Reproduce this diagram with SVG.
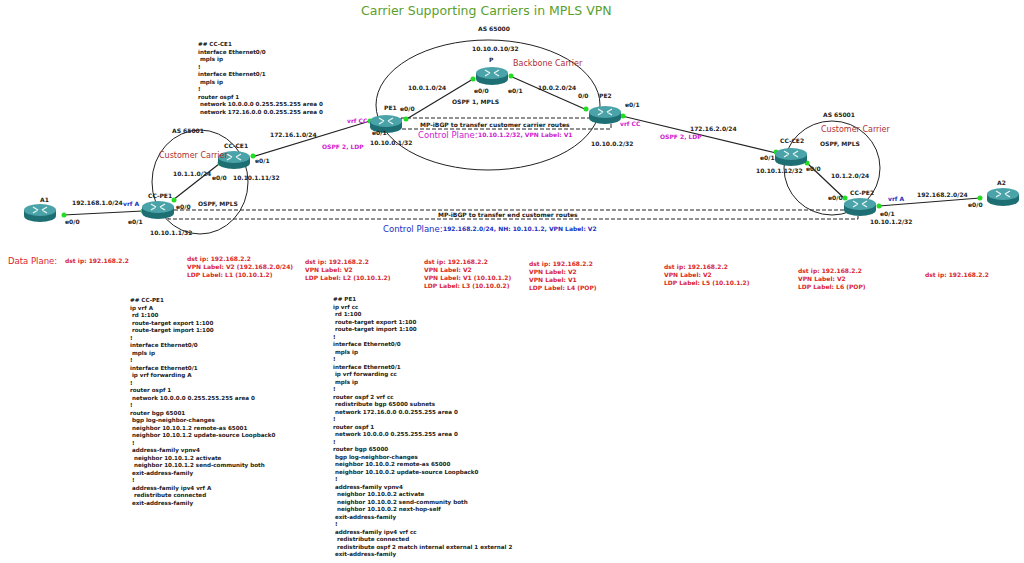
<svg xmlns="http://www.w3.org/2000/svg" width="1024" height="563" viewBox="0 0 1024 563">
<style>
text{font-family:"DejaVu Sans",Verdana,sans-serif;font-weight:bold;font-size:6px;fill:#222}
.t{font-size:12.5px;font-weight:normal;fill:#5aa02c}
.red{fill:#d9262e}
.big{font-size:8.5px;font-weight:normal}
.mag{fill:#d020d0}
.blu{fill:#2030c0}
.car{fill:#b03030;font-size:8px;font-weight:normal}
.cfg{font-size:5.6px}
.ln{stroke:#222;stroke-width:1.2;fill:none}
.ring{stroke:#222;stroke-width:1;fill:none}
.dash{stroke:#222;stroke-width:1;fill:none;stroke-dasharray:4 2}
.dot{fill:#22dd22}
</style>
<defs>
<g id="r">
<path d="M-16,-3 v6 a16,6 0 0 0 32,0 v-6 z" fill="#1e6f74"/>
<ellipse cx="0" cy="-3" rx="16" ry="6" fill="#4aa3a8"/>
<path d="M-7,-6 l5,3 M-7,0 l5,-3 M7,-6 l-5,3 M7,0 l-5,-3" stroke="#e8f4f4" stroke-width="1.3"/>
</g>
</defs>
<text class="t" x="361" y="15">Carrier Supporting Carriers in MPLS VPN</text>
<g id="rings">
<ellipse class="ring" cx="488" cy="105" rx="112" ry="65"/>
<ellipse class="ring" cx="200" cy="182" rx="48" ry="52"/>
<ellipse class="ring" cx="832" cy="168" rx="48" ry="47"/>
</g>
<g id="connectors">
<path class="ln" d="M63,215 L143,211"/>
<path class="ln" d="M173,200 L219,164"/>
<path class="ln" d="M252,157 L370,121"/>
<path class="ln" d="M405,120 L473,79"/>
<path class="ln" d="M510,76 L587,110"/>
<path class="ln" d="M622,116 L776,153"/>
<path class="ln" d="M807,163 L845,199"/>
<path class="ln" d="M879,206 L980,198"/>
<rect class="dash" x="401" y="118" width="210" height="11"/>
<rect class="dash" x="168" y="210" width="690" height="9"/>
<circle class="dot" cx="64" cy="215" r="2.5"/><circle class="dot" cx="143" cy="211" r="2.5"/>
<circle class="dot" cx="174" cy="200" r="2.5"/><circle class="dot" cx="220" cy="163" r="2.5"/>
<circle class="dot" cx="253" cy="156" r="2.5"/><circle class="dot" cx="370" cy="121" r="2.5"/>
<circle class="dot" cx="406" cy="119" r="2.5"/><circle class="dot" cx="473" cy="79" r="2.5"/>
<circle class="dot" cx="511" cy="76" r="2.5"/><circle class="dot" cx="586" cy="109" r="2.5"/>
<circle class="dot" cx="623" cy="116" r="2.5"/><circle class="dot" cx="776" cy="152" r="2.5"/>
<circle class="dot" cx="807" cy="163" r="2.5"/><circle class="dot" cx="845" cy="198" r="2.5"/>
<circle class="dot" cx="879" cy="206" r="2.5"/><circle class="dot" cx="980" cy="198" r="2.5"/>
</g>
<g id="A1"><use href="#r" x="40" y="213"/><text x="40" y="202">A1</text><text x="65" y="224">e0/0</text></g>
<g id="CC-PE1"><use href="#r" x="158" y="210"/><text x="148" y="198">CC-PE1</text><text x="128" y="224">e0/1</text><text x="176" y="209">e0/0</text><text x="150" y="235">10.10.1.1/32</text><text class="blu" x="123" y="206">vrf A</text></g>
<g id="CC-CE1"><use href="#r" x="234" y="160"/><text x="224" y="148">CC-CE1</text><text x="255" y="163">e0/1</text><text x="212" y="180">e0/0</text><text x="233" y="180">10.10.1.11/32</text></g>
<g id="PE1"><use href="#r" x="386" y="124"/><text x="384" y="110">PE1</text><text x="372" y="135">e0/1</text><text x="400" y="111">e0/0</text><text x="370" y="145">10.10.0.1/32</text><text class="mag" x="347" y="123">vrf CC</text></g>
<g id="P"><use href="#r" x="492" y="76"/><text x="489" y="62">P</text><text x="474" y="93">e0/0</text><text x="508" y="93">e0/1</text><text x="472" y="51">10.10.0.10/32</text></g>
<g id="PE2"><use href="#r" x="605" y="115"/><text x="599" y="98">PE2</text><text x="578" y="98">0/0</text><text x="625" y="107">e0/1</text><text class="mag" x="620" y="126">vrf CC</text><text x="591" y="146">10.10.0.2/32</text></g>
<g id="CC-CE2"><use href="#r" x="791" y="157"/><text x="780" y="143">CC-CE2</text><text x="760" y="160">e0/1</text><text x="806" y="171">e0/0</text><text x="756" y="173">10.10.1.12/32</text></g>
<g id="CC-PE2"><use href="#r" x="860" y="207"/><text x="850" y="195">CC-PE2</text><text x="828" y="200">e0/0</text><text x="880" y="216">e0/1</text><text x="870" y="224">10.10.1.2/32</text><text class="blu" x="888" y="201">vrf A</text></g>
<g id="A2"><use href="#r" x="1003" y="197"/><text x="997" y="185">A2</text><text x="968" y="207">e0/0</text></g>
<g id="labels">
<text x="478" y="31">AS 65000</text>
<text class="car" x="513" y="66">Backbone Carrier</text>
<text x="408" y="90">10.0.1.0/24</text>
<text x="452" y="104">OSPF 1, MPLS</text>
<text x="538" y="90">10.0.2.0/24</text>
<text x="172" y="133">AS 65001</text>
<text class="car" x="159" y="158">Customer Carrier</text>
<text x="173" y="176">10.1.1.0/24</text>
<text x="198" y="206">OSPF, MPLS</text>
<text x="72" y="205">192.168.1.0/24</text>
<text x="270" y="137">172.16.1.0/24</text>
<text class="mag" x="322" y="149">OSPF 2, LDP</text>
<text x="690" y="131">172.16.2.0/24</text>
<text class="mag" x="660" y="139">OSPF 2, LDP</text>
<text x="823" y="117">AS 65001</text>
<text class="car" x="821" y="132">Customer Carrier</text>
<text x="820" y="146">OSPF, MPLS</text>
<text x="831" y="178">10.1.2.0/24</text>
<text x="917" y="197">192.168.2.0/24</text>
<text x="420" y="127">MP-iBGP to transfer customer carrier routes</text>
<text class="mag big" x="418" y="138">Control Plane:</text><text class="mag" x="478" y="137">10.10.1.2/32, VPN Label: V1</text>
<text x="438" y="217">MP-iBGP to transfer end customer routes</text>
<text class="blu big" x="383" y="232">Control Plane:</text><text class="blu" x="443" y="231">192.168.2.0/24, NH: 10.10.1.2, VPN Label: V2</text>
</g>
<g id="dataplane">
<text class="red big" x="8" y="264">Data Plane:</text>
<text class="red" x="65" y="263">dst ip: 192.168.2.2</text>
<text class="red" x="187" y="261">dst ip: 192.168.2.2</text><text class="red" x="187" y="269">VPN Label: V2 (192.168.2.0/24)</text><text class="red" x="187" y="277">LDP Label: L1 (10.10.1.2)</text>
<text class="red" x="305" y="264">dst ip: 192.168.2.2</text><text class="red" x="305" y="272">VPN Label: V2</text><text class="red" x="305" y="280">LDP Label: L2 (10.10.1.2)</text>
<text class="red" x="424" y="264">dst ip: 192.168.2.2</text><text class="red" x="424" y="272">VPN Label: V2</text><text class="red" x="424" y="280">VPN Label: V1 (10.10.1.2)</text><text class="red" x="424" y="288">LDP Label: L3  (10.10.0.2)</text>
<text class="red" x="529" y="266">dst ip: 192.168.2.2</text><text class="red" x="529" y="274">VPN Label: V2</text><text class="red" x="529" y="282">VPN Label: V1</text><text class="red" x="529" y="290">LDP Label: L4 (POP)</text>
<text class="red" x="664" y="269">dst ip: 192.168.2.2</text><text class="red" x="664" y="277">VPN Label: V2</text><text class="red" x="664" y="285">LDP Label: L5 (10.10.1.2)</text>
<text class="red" x="798" y="273">dst ip: 192.168.2.2</text><text class="red" x="798" y="281">VPN Label: V2</text><text class="red" x="798" y="289">LDP Label: L6 (POP)</text>
<text class="red" x="925" y="277">dst ip: 192.168.2.2</text>
</g>
<g id="cfg-ce1">
<text class="cfg" x="198" y="46">## CC-CE1</text><text class="cfg" x="198" y="54">interface Ethernet0/0</text><text class="cfg" x="198" y="61" xml:space="preserve"> mpls ip</text><text class="cfg" x="198" y="69">!</text><text class="cfg" x="198" y="76">interface Ethernet0/1</text><text class="cfg" x="198" y="84" xml:space="preserve"> mpls ip</text><text class="cfg" x="198" y="91">!</text><text class="cfg" x="198" y="99">router ospf 1</text><text class="cfg" x="198" y="106" xml:space="preserve"> network 10.0.0.0 0.255.255.255 area 0</text><text class="cfg" x="198" y="114" xml:space="preserve"> network 172.16.0.0 0.0.255.255 area 0</text>
</g>
<g id="cfg-pe1">
<text class="cfg" x="130" y="302" xml:space="preserve">## CC-PE1</text>
<text class="cfg" x="130" y="309.5" xml:space="preserve">ip vrf A</text>
<text class="cfg" x="130" y="317" xml:space="preserve"> rd 1:100</text>
<text class="cfg" x="130" y="324.5" xml:space="preserve"> route-target export 1:100</text>
<text class="cfg" x="130" y="332" xml:space="preserve"> route-target import 1:100</text>
<text class="cfg" x="130" y="339.5" xml:space="preserve">!</text>
<text class="cfg" x="130" y="347" xml:space="preserve">interface Ethernet0/0</text>
<text class="cfg" x="130" y="354.5" xml:space="preserve"> mpls ip</text>
<text class="cfg" x="130" y="362" xml:space="preserve">!</text>
<text class="cfg" x="130" y="369.5" xml:space="preserve">interface Ethernet0/1</text>
<text class="cfg" x="130" y="377" xml:space="preserve"> ip vrf forwarding A</text>
<text class="cfg" x="130" y="384.5" xml:space="preserve">!</text>
<text class="cfg" x="130" y="392" xml:space="preserve">router ospf 1</text>
<text class="cfg" x="130" y="399.5" xml:space="preserve"> network 10.0.0.0 0.255.255.255 area 0</text>
<text class="cfg" x="130" y="407" xml:space="preserve">!</text>
<text class="cfg" x="130" y="414.5" xml:space="preserve">router bgp 65001</text>
<text class="cfg" x="130" y="422" xml:space="preserve"> bgp log-neighbor-changes</text>
<text class="cfg" x="130" y="429.5" xml:space="preserve"> neighbor 10.10.1.2 remote-as 65001</text>
<text class="cfg" x="130" y="437" xml:space="preserve"> neighbor 10.10.1.2 update-source Loopback0</text>
<text class="cfg" x="130" y="444.5" xml:space="preserve"> !</text>
<text class="cfg" x="130" y="452" xml:space="preserve"> address-family vpnv4</text>
<text class="cfg" x="130" y="459.5" xml:space="preserve">  neighbor 10.10.1.2 activate</text>
<text class="cfg" x="130" y="467" xml:space="preserve">  neighbor 10.10.1.2 send-community both</text>
<text class="cfg" x="130" y="474.5" xml:space="preserve"> exit-address-family</text>
<text class="cfg" x="130" y="482" xml:space="preserve"> !</text>
<text class="cfg" x="130" y="489.5" xml:space="preserve"> address-family ipv4 vrf A</text>
<text class="cfg" x="130" y="497" xml:space="preserve">  redistribute connected</text>
<text class="cfg" x="130" y="504.5" xml:space="preserve"> exit-address-family</text>
</g>
<g id="cfg-pe1b">
<text class="cfg" x="333" y="301" xml:space="preserve">## PE1</text>
<text class="cfg" x="333" y="308.5" xml:space="preserve">ip vrf cc</text>
<text class="cfg" x="333" y="316" xml:space="preserve"> rd 1:100</text>
<text class="cfg" x="333" y="323.5" xml:space="preserve"> route-target export 1:100</text>
<text class="cfg" x="333" y="331" xml:space="preserve"> route-target import 1:100</text>
<text class="cfg" x="333" y="338.5" xml:space="preserve">!</text>
<text class="cfg" x="333" y="346" xml:space="preserve">interface Ethernet0/0</text>
<text class="cfg" x="333" y="353.5" xml:space="preserve"> mpls ip</text>
<text class="cfg" x="333" y="361" xml:space="preserve">!</text>
<text class="cfg" x="333" y="368.5" xml:space="preserve">interface Ethernet0/1</text>
<text class="cfg" x="333" y="376" xml:space="preserve"> ip vrf forwarding cc</text>
<text class="cfg" x="333" y="383.5" xml:space="preserve"> mpls ip</text>
<text class="cfg" x="333" y="391" xml:space="preserve">!</text>
<text class="cfg" x="333" y="398.5" xml:space="preserve">router ospf 2 vrf cc</text>
<text class="cfg" x="333" y="406" xml:space="preserve"> redistribute bgp 65000 subnets</text>
<text class="cfg" x="333" y="413.5" xml:space="preserve"> network 172.16.0.0 0.0.255.255 area 0</text>
<text class="cfg" x="333" y="421" xml:space="preserve">!</text>
<text class="cfg" x="333" y="428.5" xml:space="preserve">router ospf 1</text>
<text class="cfg" x="333" y="436" xml:space="preserve"> network 10.0.0.0 0.255.255.255 area 0</text>
<text class="cfg" x="333" y="443.5" xml:space="preserve">!</text>
<text class="cfg" x="333" y="451" xml:space="preserve">router bgp 65000</text>
<text class="cfg" x="333" y="458.5" xml:space="preserve"> bgp log-neighbor-changes</text>
<text class="cfg" x="333" y="466" xml:space="preserve"> neighbor 10.10.0.2 remote-as 65000</text>
<text class="cfg" x="333" y="473.5" xml:space="preserve"> neighbor 10.10.0.2 update-source Loopback0</text>
<text class="cfg" x="333" y="481" xml:space="preserve"> !</text>
<text class="cfg" x="333" y="488.5" xml:space="preserve"> address-family vpnv4</text>
<text class="cfg" x="333" y="496" xml:space="preserve">  neighbor 10.10.0.2 activate</text>
<text class="cfg" x="333" y="503.5" xml:space="preserve">  neighbor 10.10.0.2 send-community both</text>
<text class="cfg" x="333" y="511" xml:space="preserve">  neighbor 10.10.0.2 next-hop-self</text>
<text class="cfg" x="333" y="518.5" xml:space="preserve"> exit-address-family</text>
<text class="cfg" x="333" y="526" xml:space="preserve"> !</text>
<text class="cfg" x="333" y="533.5" xml:space="preserve"> address-family ipv4 vrf cc</text>
<text class="cfg" x="333" y="541" xml:space="preserve">  redistribute connected</text>
<text class="cfg" x="333" y="548.5" xml:space="preserve">  redistribute ospf 2 match internal external 1 external 2</text>
<text class="cfg" x="333" y="556" xml:space="preserve"> exit-address-family</text>
</g>
</svg>
